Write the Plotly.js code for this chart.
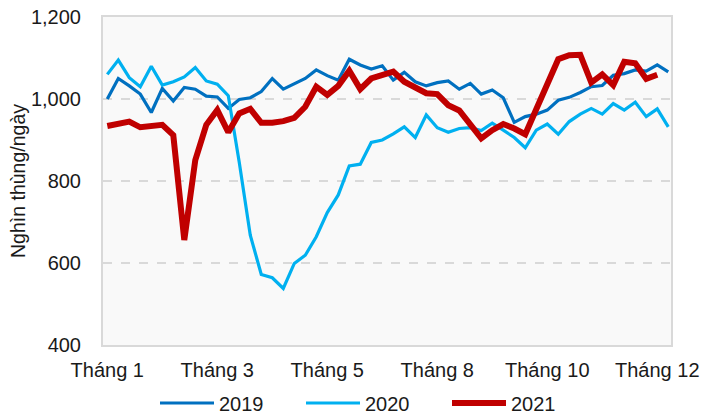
<!DOCTYPE html>
<html>
<head>
<meta charset="utf-8">
<script src="https://cdn.plot.ly/plotly-3.0.1.min.js"></script>
<style>html,body{margin:0;padding:0;background:#fff;}#chart{width:715px;height:416px;}</style>
</head>
<body>
<div id="chart"></div>
<script>
// Week numbers (1..52)
const weeks = [1,2,3,4,5,6,7,8,9,10,11,12,13,14,15,16,17,18,19,20,21,22,23,24,25,26,27,28,29,30,31,32,33,34,35,36,37,38,39,40,41,42,43,44,45,46,47,48,49,50,51,52];
const tickWeeks = [1, 11, 21, 31, 41, 51];
const tickLabels = ["Tháng 1", "Tháng 3", "Tháng 5", "Tháng 8", "Tháng 10", "Tháng 12"];

const y2019 = [1000,1050,1032,1012,967,1026,995,1028,1024,1007,1005,
               977,999,1003,1018,1050,1024,1037,1050,1071,1057,
               1046,1097,1083,1073,1081,1046,1065,1042,1032,1040,1044,
               1024,1038,1012,1022,1003,943,957,963,973,997,
               1004,1016,1030,1033,1058,1062,1071,1068,1083,1066];
const y2020 = [1060,1095,1052,1030,1080,1034,1042,1054,1077,1044,1036,
               1008,845,668,572,564,538,599,619,664,723,
               766,837,841,894,900,915,932,906,961,930,919,
               928,930,923,941,924,906,881,924,939,914,
               945,963,977,963,989,973,992,957,976,932];
const y2021 = [934,941,945,931,934,937,912,656,851,937,973,
               919,965,976,942,942,946,954,981,1030,1010,
               1032,1069,1024,1050,1059,1067,1042,1028,1014,1012,985,
               972,935,904,924,939,928,914,975,1036,1097,
               1107,1108,1040,1060,1034,1091,1087,1049,1059];

const traces = [
  {x: weeks, y: y2019, name: "2019", type: "scatter", mode: "lines",
   line: {color: "#0070C0", width: 3.2}},
  {x: weeks, y: y2020, name: "2020", type: "scatter", mode: "lines",
   line: {color: "#00B0F0", width: 3.2}},
  {x: weeks.slice(0, y2021.length), y: y2021, name: "2021", type: "scatter", mode: "lines",
   line: {color: "#C00000", width: 6}}
];

const layout = {
  width: 715, height: 416,
  margin: {l: 103, r: 44, t: 17, b: 71},
  paper_bgcolor: "#ffffff",
  plot_bgcolor: "#f9f9f9",
  font: {family: "Liberation Sans, Arial, sans-serif", size: 20, color: "#1a1a1a"},
  showlegend: true,
  legend: {
    orientation: "h",
    xref: "container", yref: "container",
    x: 155/715, xanchor: "left",
    y: 1 - 403/416, yanchor: "middle",
    entrywidth: 77, entrywidthmode: "pixels",
    itemwidth: 54,
    font: {size: 20, color: "#1a1a1a"},
    bgcolor: "rgba(0,0,0,0)"
  },
  xaxis: {
    range: [0.61, 52.25],
    tickmode: "array", tickvals: tickWeeks, ticktext: tickLabels,
    showgrid: false, zeroline: false,
    showline: true, mirror: true, linecolor: "#d9d9d9", linewidth: 2,
    ticks: "outside", ticklen: 6, tickcolor: "rgba(0,0,0,0)",
    tickfont: {size: 20}
  },
  yaxis: {
    range: [400, 1200],
    tickmode: "array", tickvals: [400, 600, 800, 1000, 1200],
    ticktext: ["400", "600", "800", "1,000", "1,200"],
    showgrid: true, gridcolor: "#d9d9d9", griddash: "dash", gridwidth: 1.5,
    zeroline: false,
    showline: true, mirror: true, linecolor: "#d9d9d9", linewidth: 2,
    ticks: "outside", ticklen: 16, tickcolor: "rgba(0,0,0,0)",
    tickfont: {size: 20},
    title: {text: "Nghìn thùng/ngày", font: {size: 19.5}, standoff: 0}
  }
};

Plotly.newPlot("chart", traces, layout, {displayModeBar: false, staticPlot: true});
</script>
</body>
</html>
